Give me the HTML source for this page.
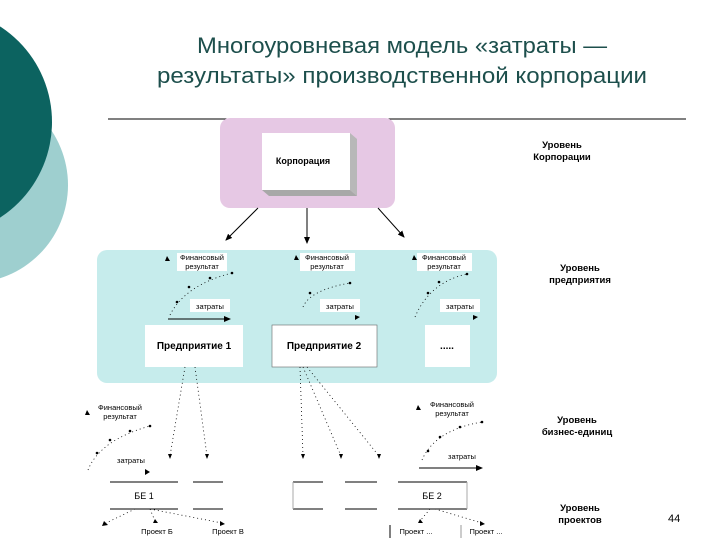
<!DOCTYPE html>
<html><head><meta charset="utf-8"><style>
html,body{margin:0;padding:0;background:#fff;}
svg{display:block;font-family:"Liberation Sans",Arial,sans-serif;}
</style></head><body>
<svg width="720" height="540" viewBox="0 0 720 540" xmlns="http://www.w3.org/2000/svg">
<defs>
<marker id="a" markerWidth="8" markerHeight="8" refX="6" refY="3" orient="auto" markerUnits="userSpaceOnUse"><path d="M0,0 L7,3 L0,6 z" fill="#000"/></marker>
</defs>
<circle cx="-30" cy="185" r="98" fill="#9ecfcf"/>
<circle cx="-62" cy="122" r="114" fill="#0c6360"/>
<text x="402" y="53" font-size="22" fill="#1d4f4c" text-anchor="middle" textLength="410" lengthAdjust="spacingAndGlyphs">Многоуровневая модель «затраты —</text>
<text x="402" y="83" font-size="22" fill="#1d4f4c" text-anchor="middle" textLength="490" lengthAdjust="spacingAndGlyphs">результаты» производственной корпорации</text>
<line x1="108" y1="119" x2="686" y2="119" stroke="#000" stroke-width="1"/>
<rect x="220" y="118" width="175" height="90" rx="10" fill="#e6c8e4"/>
<polygon points="350,133 357,139 357,196 350,190" fill="#b8b8b8"/>
<polygon points="262,190 350,190 357,196 269,196" fill="#a8a8a8"/>
<rect x="262" y="133" width="88" height="57" fill="#fff"/>
<text x="303" y="164" font-size="9" font-weight="bold" text-anchor="middle">Корпорация</text>
<text x="562" y="148" font-size="9.5" font-weight="bold" text-anchor="middle">Уровень</text>
<text x="562" y="160" font-size="9.5" font-weight="bold" text-anchor="middle">Корпорации</text>
<g stroke="#000" stroke-width="1" marker-end="url(#a)">
<line x1="258" y1="208" x2="226" y2="240"/>
<line x1="307" y1="208" x2="307" y2="243"/>
<line x1="378" y1="208" x2="404" y2="237"/>
</g>
<rect x="97" y="250" width="400" height="133" rx="10" fill="#c6ecec"/>
<g font-size="7.5" text-anchor="middle">
<rect x="177" y="253" width="50" height="18" fill="#fff"/><text x="202" y="260">Финансовый</text><text x="202" y="269">результат</text>
<rect x="300" y="253" width="55" height="18" fill="#fff"/><text x="327" y="260">Финансовый</text><text x="327" y="269">результат</text>
<rect x="417" y="253" width="55" height="18" fill="#fff"/><text x="444" y="260">Финансовый</text><text x="444" y="269">результат</text>
<rect x="190" y="299" width="40" height="13" fill="#fff"/><text x="210" y="309">затраты</text>
<rect x="320" y="299" width="40" height="13" fill="#fff"/><text x="340" y="309">затраты</text>
<rect x="440" y="299" width="40" height="13" fill="#fff"/><text x="460" y="309">затраты</text>
</g>
<g fill="#000">
<polygon points="167,256 165,261 170,261"/><polygon points="296,255 294,260 299,260"/><polygon points="414,255 412,260 417,260"/>
<polygon points="355,315 360,317 355,320"/><polygon points="473,315 478,317 473,320"/>
</g>
<g stroke="#000" stroke-width="0.8" stroke-dasharray="1,3" fill="none">
<path d="M170,315 Q185,285 232,273"/>
<path d="M303,307 Q310,290 350,283"/>
<path d="M415,317 Q430,282 467,274"/>
</g>
<g fill="#000">
<circle cx="177" cy="302" r="1.3"/><circle cx="189" cy="287" r="1.3"/><circle cx="210" cy="278" r="1.3"/><circle cx="232" cy="273" r="1.3"/>
<circle cx="310" cy="293" r="1.3"/><circle cx="350" cy="283" r="1.3"/>
<circle cx="428" cy="293" r="1.3"/><circle cx="439" cy="282" r="1.3"/><circle cx="467" cy="274" r="1.3"/>
</g>
<line x1="168" y1="319" x2="230" y2="319" stroke="#000" marker-end="url(#a)"/>
<rect x="145" y="325" width="98" height="42" fill="#fff"/>
<rect x="272" y="325" width="105" height="42" fill="#fff" stroke="#666" stroke-width="0.6"/>
<rect x="425" y="325" width="45" height="42" fill="#fff"/>
<g font-size="10" font-weight="bold" text-anchor="middle">
<text x="194" y="349">Предприятие 1</text>
<text x="324" y="349">Предприятие 2</text>
<text x="447" y="349">.....</text>
</g>
<text x="580" y="271" font-size="9.5" font-weight="bold" text-anchor="middle">Уровень</text>
<text x="580" y="283" font-size="9.5" font-weight="bold" text-anchor="middle">предприятия</text>
<text x="577" y="423" font-size="9.5" font-weight="bold" text-anchor="middle">Уровень</text>
<text x="577" y="435" font-size="9.5" font-weight="bold" text-anchor="middle">бизнес-единиц</text>
<text x="580" y="511" font-size="9.5" font-weight="bold" text-anchor="middle">Уровень</text>
<text x="580" y="523" font-size="9.5" font-weight="bold" text-anchor="middle">проектов</text>
<text x="668" y="522" font-size="11">44</text>
<g stroke="#000" stroke-width="0.8" stroke-dasharray="1,3" fill="none">
<line x1="185" y1="367" x2="170" y2="456"/><line x1="195" y1="367" x2="207" y2="456"/>
<line x1="300" y1="367" x2="303" y2="456"/><line x1="303" y1="367" x2="341" y2="456"/><line x1="307" y1="367" x2="379" y2="456"/>
<path d="M88,470 Q100,440 150,426"/>
<path d="M422,460 Q435,430 482,422"/>
<line x1="135" y1="509" x2="106" y2="523"/><line x1="150" y1="509" x2="155" y2="521"/><line x1="150" y1="509" x2="222" y2="523"/>
<line x1="430" y1="509" x2="420" y2="521"/><line x1="435" y1="509" x2="482" y2="523"/>
</g>
<g fill="#000">
<polygon points="168,454 172,454 170,459"/><polygon points="205,454 209,454 207,459"/>
<polygon points="301,454 305,454 303,459"/><polygon points="339,454 343,454 341,459"/><polygon points="377,454 381,454 379,459"/>
<polygon points="87,410 85,415 90,415"/><polygon points="418,405 416,410 421,410"/>
<polygon points="145,469 150,472 145,475"/>
<circle cx="97" cy="453" r="1.3"/><circle cx="110" cy="440" r="1.3"/><circle cx="130" cy="431" r="1.3"/><circle cx="150" cy="426" r="1.3"/>
<circle cx="428" cy="451" r="1.3"/><circle cx="440" cy="437" r="1.3"/><circle cx="460" cy="427" r="1.3"/><circle cx="482" cy="422" r="1.3"/>
<polygon points="104,521 108,525 102,526"/><polygon points="155,519 153,523 158,523"/><polygon points="220,521 225,524 220,526"/>
<polygon points="420,519 418,523 423,523"/><polygon points="480,521 485,524 480,526"/>
</g>
<g font-size="7.5" text-anchor="middle">
<text x="120" y="410">Финансовый</text><text x="120" y="419">результат</text>
<text x="452" y="407">Финансовый</text><text x="452" y="416">результат</text>
<text x="131" y="463">затраты</text>
<text x="462" y="459">затраты</text>
<text x="157" y="534">Проект Б</text><text x="228" y="534">Проект В</text>
<text x="416" y="534">Проект ...</text><text x="486" y="534">Проект ...</text>
</g>
<line x1="419" y1="468" x2="482" y2="468" stroke="#000" marker-end="url(#a)"/>
<g stroke="#000" stroke-width="1">
<line x1="110" y1="482" x2="178" y2="482"/><line x1="110" y1="509" x2="178" y2="509"/>
<line x1="193" y1="482" x2="223" y2="482"/><line x1="193" y1="509" x2="223" y2="509"/>
<line x1="293" y1="482" x2="323" y2="482"/><line x1="293" y1="509" x2="323" y2="509"/>
<line x1="345" y1="482" x2="377" y2="482"/><line x1="345" y1="509" x2="377" y2="509"/>
<line x1="398" y1="482" x2="467" y2="482"/><line x1="398" y1="509" x2="467" y2="509"/>
<line x1="390" y1="525" x2="390" y2="538"/><line x1="461" y1="525" x2="461" y2="538" stroke="#999"/>
</g>
<line x1="293" y1="482" x2="293" y2="509" stroke="#aaa"/>
<line x1="467" y1="482" x2="467" y2="509" stroke="#aaa"/>
<text x="144" y="499" font-size="9" text-anchor="middle">БЕ 1</text>
<text x="432" y="499" font-size="9" text-anchor="middle">БЕ 2</text>
</svg>
</body></html>
